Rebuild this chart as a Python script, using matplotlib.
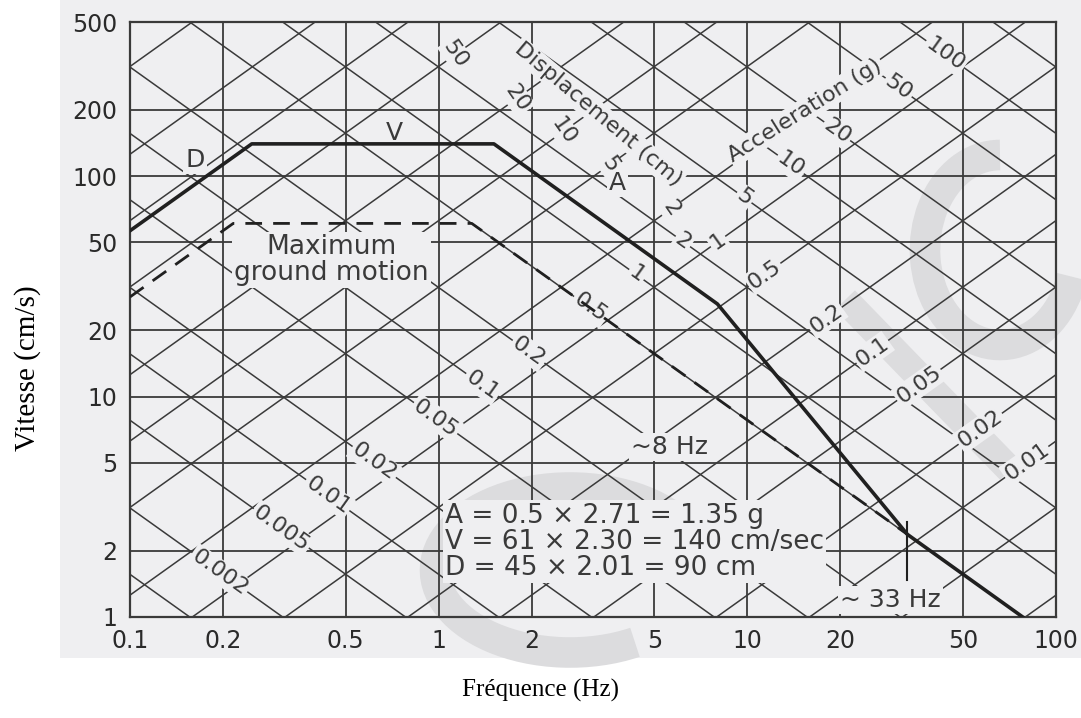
import numpy as np
import matplotlib.pyplot as plt
from matplotlib.patches import Rectangle, Arc

# ------------------ DATA ------------------

freq_ticks = [0.1, 0.2, 0.5, 1, 2, 5, 10, 20, 50, 100]
freq_tick_labels = ["0.1", "0.2", "0.5", "1", "2", "5", "10", "20", "50", "100"]
vel_ticks = [1, 2, 5, 10, 20, 50, 100, 200, 500]
vel_tick_labels = ["1", "2", "5", "10", "20", "50", "100", "200", "500"]

# diagonal grid (displacement in cm, acceleration in g)
disp_lines = [0.001, 0.002, 0.005, 0.01, 0.02, 0.05, 0.1, 0.2, 0.5, 1, 2, 5,
              10, 20, 50, 100, 200, 500, 1000]
acc_lines = [0.0005, 0.001, 0.002, 0.005, 0.01, 0.02, 0.05, 0.1, 0.2, 0.5, 1,
             2, 5, 10, 20, 50, 100, 200, 500]
disp_labels = [50, 20, 10, 5, 2, 1, 0.5, 0.2, 0.1, 0.05, 0.02, 0.01]
acc_labels = [100, 50, 20, 10, 5, 2, 1, 0.5, 0.2, 0.1, 0.05, 0.02, 0.01,
              0.005, 0.002]

# design spectrum (solid) and maximum ground motion (dashed)
design_freq = [0.1, 0.248, 1.51, 8.0, 33.0, 78.0]
design_vel = [56.5, 140, 140, 26.3, 2.37, 1.0]
ground_freq = [0.1, 0.216, 1.28, 33.0]
ground_vel = [28.3, 61, 61, 2.37]

G = 981.0  # cm/s2

# ------------------ FIGURE ------------------

BG = "#efeff1"
INK = "#3a3a3a"
SANS = "DejaVu Sans"

fig = plt.figure(figsize=(10.81, 7.18), dpi=100)
fig.patch.set_facecolor("white")
fig.patches.append(Rectangle((60 / 1081, 1 - 658 / 718), 1 - 60 / 1081, 658 / 718,
                             transform=fig.transFigure, fc=BG, ec="none", zorder=-5))

ax = fig.add_axes([130 / 1081, 1 - 617 / 718, 926 / 1081, 595 / 718])
ax.set_facecolor(BG)
ax.set_xscale("log")
ax.set_yscale("log")
ax.set_xlim(0.1, 100)
ax.set_ylim(1, 500)

# watermark (rough)
def px(x, y):
    return ((x - 130) / 926, (617 - y) / 595)

WM = "#dcdcde"
wm = dict(transform=ax.transAxes, color=WM, lw=22, zorder=0.5, clip_on=False)
ax.add_patch(Arc(px(570, 570), 270 / 926, 165 / 595, theta1=40, theta2=300, **wm))
ax.add_patch(Arc(px(1000, 250), 150 / 926, 190 / 595, theta1=90, theta2=330, **wm))
ax.plot(*zip(px(845, 300), px(1010, 470)), transform=ax.transAxes,
        color=WM, lw=20, solid_capstyle="butt", zorder=0.5)

# rectangular grid
for f in freq_ticks[1:-1]:
    ax.axvline(f, color=INK, lw=1.3, zorder=1)
for v in vel_ticks[1:-1]:
    ax.axhline(v, color=INK, lw=1.3, zorder=1)

# diagonal grid
f_all = np.array([0.05, 200.0])
for d in disp_lines:
    ax.plot(f_all, 2 * np.pi * f_all * d, color=INK, lw=1.1, zorder=1)
for a in acc_lines:
    ax.plot(f_all, a * G / (2 * np.pi * f_all), color=INK, lw=1.1, zorder=1)

mask = dict(boxstyle="square,pad=0.08", fc=BG, ec="none")

def fmt(v):
    return ("%g" % v)

# displacement labels sit where each D line crosses A = 2.6 g
for d in disp_labels:
    f = np.sqrt(2.6 * G / (4 * np.pi ** 2 * d))
    rot = -55 if d >= 2 else 35.5
    ax.text(f, 2 * np.pi * f * d, fmt(d), rotation=rot, rotation_mode="anchor",
            ha="center", va="center", fontsize=16, color=INK, family=SANS,
            bbox=mask, zorder=2.5)

# acceleration labels sit where each A line crosses D = 1.3 cm
for a in acc_labels:
    f = np.sqrt(a * G / (4 * np.pi ** 2 * 1.3))
    ax.text(f, a * G / (2 * np.pi * f), fmt(a), rotation=-35.5, rotation_mode="anchor",
            ha="center", va="center", fontsize=16, color=INK, family=SANS,
            bbox=mask, zorder=2.5)

ax.text(3.28, 191, "Displacement (cm)", rotation=-40, rotation_mode="anchor",
        ha="center", va="center", fontsize=16, color=INK, family=SANS, bbox=mask, zorder=2)
ax.text(15.4, 199, "Acceleration (g)", rotation=32, rotation_mode="anchor",
        ha="center", va="center", fontsize=16, color=INK, family=SANS, bbox=mask, zorder=2)

# spectra
ax.plot(design_freq, design_vel, color="#202020", lw=2.6, zorder=3)
ax.plot(ground_freq, ground_vel, color="#202020", lw=2.0, dashes=(6, 4), zorder=3)
ax.plot([33, 33], [1.47, 2.7], color="#202020", lw=1.5, zorder=3)

# annotations
ann = dict(color=INK, family=SANS, zorder=2, bbox=mask)
ax.text(0.1625, 118, "D", ha="center", va="center", fontsize=18, **ann)
ax.text(0.72, 157, "V", ha="center", va="center", fontsize=18, **ann)
ax.text(3.8, 93, "A", ha="center", va="center", fontsize=18, **ann)
ax.text(0.45, 41.6, "Maximum\nground motion", ha="center", va="center",
        linespacing=1.0, fontsize=19, **ann)
ax.text(4.2, 5.9, "~8 Hz", ha="left", va="center", fontsize=18, **ann)
ax.text(1.05, 2.2, "A = 0.5 \u00d7 2.71 = 1.35 g\nV = 61 \u00d7 2.30 = 140 cm/sec\n"
        "D = 45 \u00d7 2.01 = 90 cm", ha="left", va="center", linespacing=1.0,
        fontsize=19, **ann)
ax.text(20, 1.2, "~ 33 Hz", ha="left", va="center", fontsize=18, **ann)

# axes styling
for s in ax.spines.values():
    s.set_color(INK)
    s.set_linewidth(1.6)
ax.minorticks_off()
ax.set_xticks(freq_ticks)
ax.set_xticklabels(freq_tick_labels)
ax.set_yticks(vel_ticks)
ax.set_yticklabels(vel_tick_labels)
ax.tick_params(length=0, labelsize=17, labelcolor="#2a2a2a", pad=9)
for t in ax.get_xticklabels() + ax.get_yticklabels():
    t.set_family(SANS)

fig.text(541 / 1081, 1 - 690 / 718, "Fr\u00e9quence (Hz)", ha="center", va="center",
         fontsize=18, family="Liberation Serif")
fig.text(28 / 1081, 1 - 368 / 718, "Vitesse (cm/s)", ha="center", va="center",
         rotation=90, fontsize=21, family="Liberation Serif")

fig.savefig("out.png", dpi=100)
